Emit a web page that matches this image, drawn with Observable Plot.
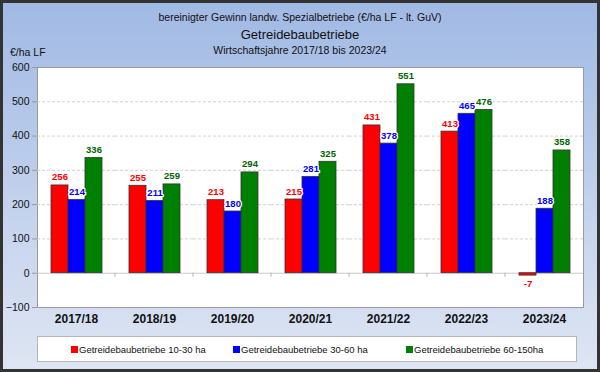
<!DOCTYPE html>
<html><head><meta charset="utf-8">
<script src="https://cdn.jsdelivr.net/npm/d3@7"></script>
<script src="https://cdn.jsdelivr.net/npm/@observablehq/plot@0.6"></script>
<style>
body{margin:0;background:#fff;}
#wrap{position:relative;width:600px;height:372px;overflow:hidden;
  background:linear-gradient(#a0b9e4,#dfe6f3);
  box-shadow:inset 0 0 0 3px #333;
  font-family:"Liberation Sans",Arial,sans-serif;color:#111;}
.t{position:absolute;left:0;width:600px;text-align:center;white-space:nowrap;}
#chart{position:absolute;left:0;top:0;}
#unit{position:absolute;left:10px;top:46px;font-size:10.5px;}
#legend{position:absolute;left:37px;top:336px;width:540px;height:26px;box-sizing:border-box;
  background:#fff;border:1px solid #b5b5b5;font-size:9.5px;}
.li{position:absolute;top:7px;white-space:nowrap;}
.sw{display:inline-block;width:7px;height:7px;margin-right:1px;vertical-align:0px;}
</style></head>
<body>
<div id="wrap">
  <div class="t" style="top:11px;font-size:10.5px;">bereinigter Gewinn landw. Spezialbetriebe (€/ha LF  - lt. GuV)</div>
  <div class="t" style="top:27px;font-size:13px;">Getreidebaubetriebe</div>
  <div class="t" style="top:44px;font-size:10.5px;">Wirtschaftsjahre 2017/18 bis 2023/24</div>
  <div id="unit">€/ha LF</div>
  <div id="chart"></div>
  <div id="legend"></div>
</div>
<script>
const years = ["2017/18","2018/19","2019/20","2020/21","2021/22","2022/23","2023/24"];
const seriesNames = ["Getreidebaubetriebe 10-30 ha","Getreidebaubetriebe 30-60 ha","Getreidebaubetriebe 60-150ha"];
const seriesColors = ["#ff0000","#0000ff","#008000"];
const labelColors = ["#ff0000","#0000ff","#006400"];
const values10_30 = [256,255,213,215,431,413,-7];
const values30_60 = [214,211,180,281,378,465,188];
const values60_150 = [336,259,294,325,551,476,358];
const yTicks = [-100,0,100,200,300,400,500,600];

const allValues = [values10_30, values30_60, values60_150];
const data = [];
years.forEach((y,i)=>allValues.forEach((vals,s)=>data.push({year:y, series:seriesNames[s], value:vals[i], si:s})));

// zero-line separators between year groups, drawn once over the whole plot
const sepRender = (index, scales, values, dims) => {
  const g = d3.create("svg:g");
  const yz = scales.y(0);
  years.slice(1).forEach(yr=>{
    const x = scales.fx(yr);
    g.append("line").attr("x1",x).attr("x2",x).attr("y1",yz).attr("y2",yz+4)
      .attr("stroke","#b0b0b0");
  });
  return g.node();
};

const plot = Plot.plot({
  width:600, height:372,
  marginLeft:36, marginRight:16, marginTop:67, marginBottom:65,
  style:{background:"transparent", fontFamily:"'Liberation Sans',Arial,sans-serif", color:"#111", overflow:"visible"},
  fx:{domain:years, padding:0, label:null},
  x:{domain:seriesNames, paddingInner:0, paddingOuter:0.74, axis:null},
  y:{domain:[-100,600], axis:null, label:null},
  marks:[
    Plot.frame({facet:"super", fill:"#fff", stroke:"#9a9a9a"}),
    Plot.gridY(yTicks.filter(d=>d>-100 && d<600 && d!==0), {stroke:"#d2d2d2", strokeOpacity:1, strokeDasharray:"3,2"}),
    Plot.ruleY([0], {stroke:"#c8c8c8"}),
    Plot.frame({facet:"super", render: sepRender}),
    Plot.barY(data, {fx:"year", x:"series", y:"value", fill:"series", stroke:"#333", strokeWidth:0.8}),
    Plot.text(data, {fx:"year", x:"series", y:"value", text:d=>String(d.value),
      lineAnchor:"bottom", fill:d=>labelColors[d.si], fontSize:9.5, fontWeight:"bold",
      stroke:"#fff", strokeWidth:2.5, paintOrder:"stroke",
      filter:d=>d.value>=0, dy:-5}),
    Plot.text(data, {fx:"year", x:"series", y:"value", text:d=>String(d.value),
      lineAnchor:"top", fill:d=>labelColors[d.si], fontSize:9.5, fontWeight:"bold",
      stroke:"#fff", strokeWidth:2.5, paintOrder:"stroke",
      filter:d=>d.value<0, dy:5}),
    Plot.axisY(yTicks, {anchor:"left", tickSize:5, tickPadding:3, fontSize:10.5, stroke:"#999", fill:"#111", label:null}),
    Plot.axisFx({anchor:"bottom", tickSize:0, tickPadding:7, fontSize:12, fontWeight:"bold", fill:"#111", label:null})
  ],
  color:{domain:seriesNames, range:seriesColors}
});
document.getElementById("chart").appendChild(plot);

const lg = document.getElementById("legend");
const legX = [33, 195, 368];
seriesNames.forEach((n,i)=>{
  const d = document.createElement("div");
  d.className="li"; d.style.left = legX[i]+"px";
  d.innerHTML = `<span class="sw" style="background:${seriesColors[i]}"></span>${n}`;
  lg.appendChild(d);
});
</script>
</body></html>
